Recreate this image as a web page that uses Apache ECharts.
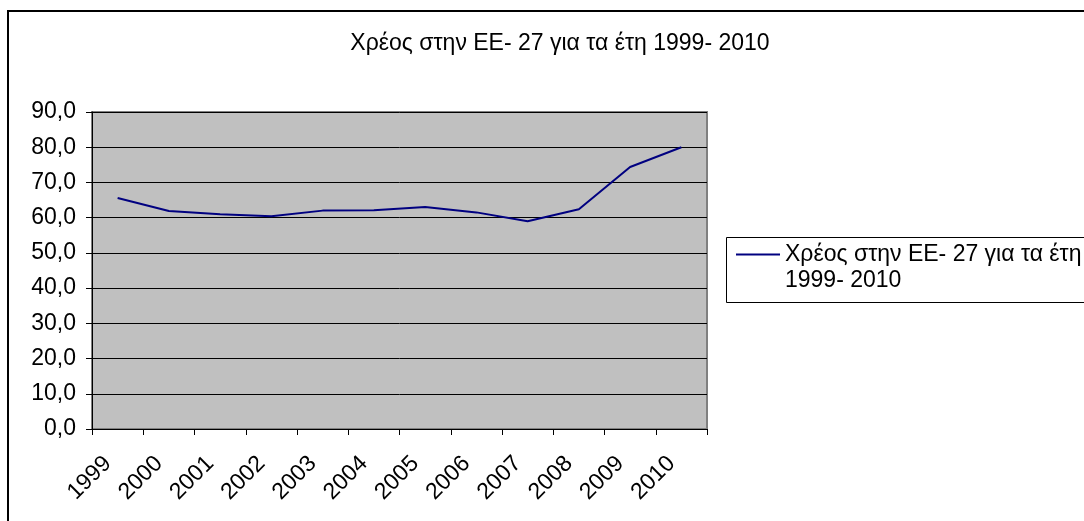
<!DOCTYPE html>
<html>
<head>
<meta charset="utf-8">
<script src="https://cdn.jsdelivr.net/npm/echarts@6/dist/echarts.min.js"></script>
<style>
html,body{margin:0;padding:0;background:#fff;}
#main{width:1084px;height:521px;}
</style>
</head>
<body>
<div id="main"></div>
<script>
const titleText = 'Χρέος στην ΕΕ- 27 για τα έτη 1999- 2010';
const seriesName = 'Χρέος στην ΕΕ- 27 για τα έτη 1999- 2010';
const years = ['1999','2000','2001','2002','2003','2004','2005','2006','2007','2008','2009','2010'];
const debt = [65.6, 61.9, 61.0, 60.4, 62.0, 62.1, 63.0, 61.5, 59.0, 62.4, 74.4, 80.0];
const yMin = 0, yMax = 90, yStep = 10;

const FONT = "'Liberation Sans', Arial, sans-serif";
const chart = echarts.init(document.getElementById('main'), null, {renderer: 'canvas'});
const legendLine1 = 'Χρέος στην ΕΕ- 27 για τα έτη';
const legendLine2 = '1999- 2010';

chart.setOption({
  backgroundColor: '#ffffff',
  animation: false,
  title: {
    text: titleText,
    left: 555,
    textAlign: 'center',
    top: 27,
    textStyle: {fontFamily: FONT, fontSize: 23, fontWeight: 'normal', color: '#000'}
  },
  grid: {
    left: 92, right: 377, top: 112, bottom: 92,
    show: true, backgroundColor: '#c0c0c0', borderColor: '#808080', borderWidth: 2,
    containLabel: false, outerBoundsMode: 'none'
  },
  legend: {
    left: 736, top: 243, padding: 0,
    itemWidth: 44, itemHeight: 14,
    icon: 'path://M0,6 L44,6 L44,8 L0,8 Z',
    data: [{name: seriesName, itemStyle: {color: '#000080'}}],
    formatter: function () { return legendLine1; },
    textStyle: {fontFamily: FONT, fontSize: 23, color: '#000'}
  },
  graphic: [
    {type: 'rect', shape: {x: 8, y: 11, width: 1200, height: 600}, style: {fill: 'none', stroke: '#000', lineWidth: 2}, silent: true, z: 100},
    {type: 'rect', shape: {x: 726.5, y: 237.5, width: 500, height: 65}, style: {fill: 'none', stroke: '#000', lineWidth: 1}, silent: true},
    {type: 'text', left: 785, top: 269, style: {text: legendLine2, font: '23px ' + FONT, fill: '#000'}, silent: true}
  ],
  xAxis: {
    type: 'category',
    data: years,
    boundaryGap: true,
    axisLine: {lineStyle: {color: '#000', width: 1}},
    axisTick: {show: true, alignWithLabel: false, length: 6, lineStyle: {color: '#000'}},
    axisLabel: {rotate: 45, margin: 21, padding: [0, 14, 0, 0], fontFamily: FONT, fontSize: 23, color: '#000', interval: 0},
    splitLine: {show: false}
  },
  yAxis: {
    type: 'value',
    min: yMin, max: yMax, interval: yStep,
    axisLine: {show: true, lineStyle: {color: '#000', width: 1}},
    axisTick: {show: true, length: 6, lineStyle: {color: '#000'}},
    axisLabel: {margin: 16, fontFamily: FONT, fontSize: 23, color: '#000',
      formatter: function (v) { return v.toFixed(1).replace('.', ','); }},
    splitLine: {show: true, lineStyle: {color: '#000', width: 1}}
  },
  series: [{
    name: seriesName,
    type: 'line',
    data: debt,
    symbol: 'none',
    lineStyle: {color: '#000080', width: 2},
    itemStyle: {color: '#000080'}
  }]
});
</script>
</body>
</html>
